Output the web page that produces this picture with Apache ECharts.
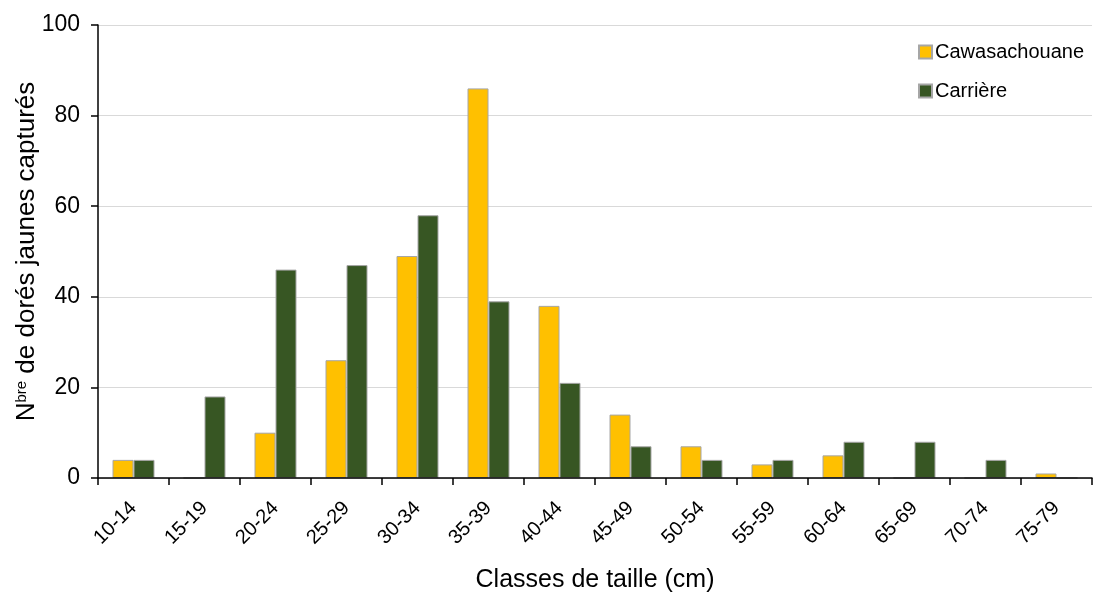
<!DOCTYPE html>
<html><head><meta charset="utf-8">
<script src="https://cdn.jsdelivr.net/npm/echarts@6/dist/echarts.min.js"></script>
<style>html,body{margin:0;padding:0;background:#fff}#c{width:1098px;height:592px}</style>
</head><body><div id="c"></div>
<script>
const categories = ['10-14','15-19','20-24','25-29','30-34','35-39','40-44','45-49','50-54','55-59','60-64','65-69','70-74','75-79'];
const cawasachouane = [4, 0, 10, 26, 49, 86, 38, 14, 7, 3, 5, 0, 0, 1];
const carriere = [4, 18, 46, 47, 58, 39, 21, 7, 4, 4, 8, 8, 4, 0];
const yTicks = [0, 20, 40, 60, 80, 100];

const font = "'Liberation Sans', Arial, sans-serif";
const chart = echarts.init(document.getElementById('c'), null, {renderer: 'canvas'});
chart.setOption({
  animation: false,
  textStyle: {fontFamily: font},
  grid: {left: 98, right: 6, top: 25, bottom: 114, containLabel: false, outerBoundsMode: 'none'},
  legend: {
    orient: 'vertical', right: 9, top: 37, itemWidth: 13, itemHeight: 13, itemGap: 19,
    icon: 'rect',
    textStyle: {fontFamily: font, fontSize: 20, color: '#000', padding: [0, 0, 0, -2]},
    data: ['Cawasachouane', 'Carrière']
  },
  xAxis: {
    type: 'category', data: categories, z: 5,
    name: 'Classes de taille (cm)', nameLocation: 'middle', nameGap: 90,
    nameTextStyle: {fontFamily: font, fontSize: 25, color: '#000'},
    axisLine: {lineStyle: {color: '#000', width: 1.5}},
    axisTick: {show: true, alignWithLabel: false, length: 7, lineStyle: {color: '#000', width: 1.5}},
    axisLabel: {rotate: 45, fontFamily: font, fontSize: 20, color: '#000', margin: 27, interval: 0}
  },
  yAxis: {
    type: 'value', min: yTicks[0], max: yTicks[yTicks.length - 1], interval: 20,
    name: '{n|N}{s|bre}{n| de dorés jaunes capturés}', nameLocation: 'middle', nameGap: 58, nameRotate: 90,
    nameMoveOverlap: false,
    nameTextStyle: {rich: {
      n: {fontFamily: font, fontSize: 26, color: '#000'},
      s: {fontFamily: font, fontSize: 15, color: '#000', verticalAlign: 'top', padding: [0, 0, 9, 0]}
    }},
    axisLine: {show: true, lineStyle: {color: '#000', width: 1.5}},
    axisTick: {show: true, length: 7, lineStyle: {color: '#000', width: 1.5}},
    axisLabel: {fontFamily: font, fontSize: 23, color: '#000', margin: 18},
    splitLine: {show: true, lineStyle: {color: '#d9d9d9', width: 1}}
  },
  series: [
    {name: 'Cawasachouane', type: 'bar', data: cawasachouane, barWidth: 21, barGap: '0%',
     itemStyle: {color: '#FFC000', borderColor: '#a6a6a6', borderWidth: 1}},
    {name: 'Carrière', type: 'bar', data: carriere, barWidth: 21, barGap: '0%',
     itemStyle: {color: '#375623', borderColor: '#a6a6a6', borderWidth: 1}}
  ]
});
</script></body></html>
